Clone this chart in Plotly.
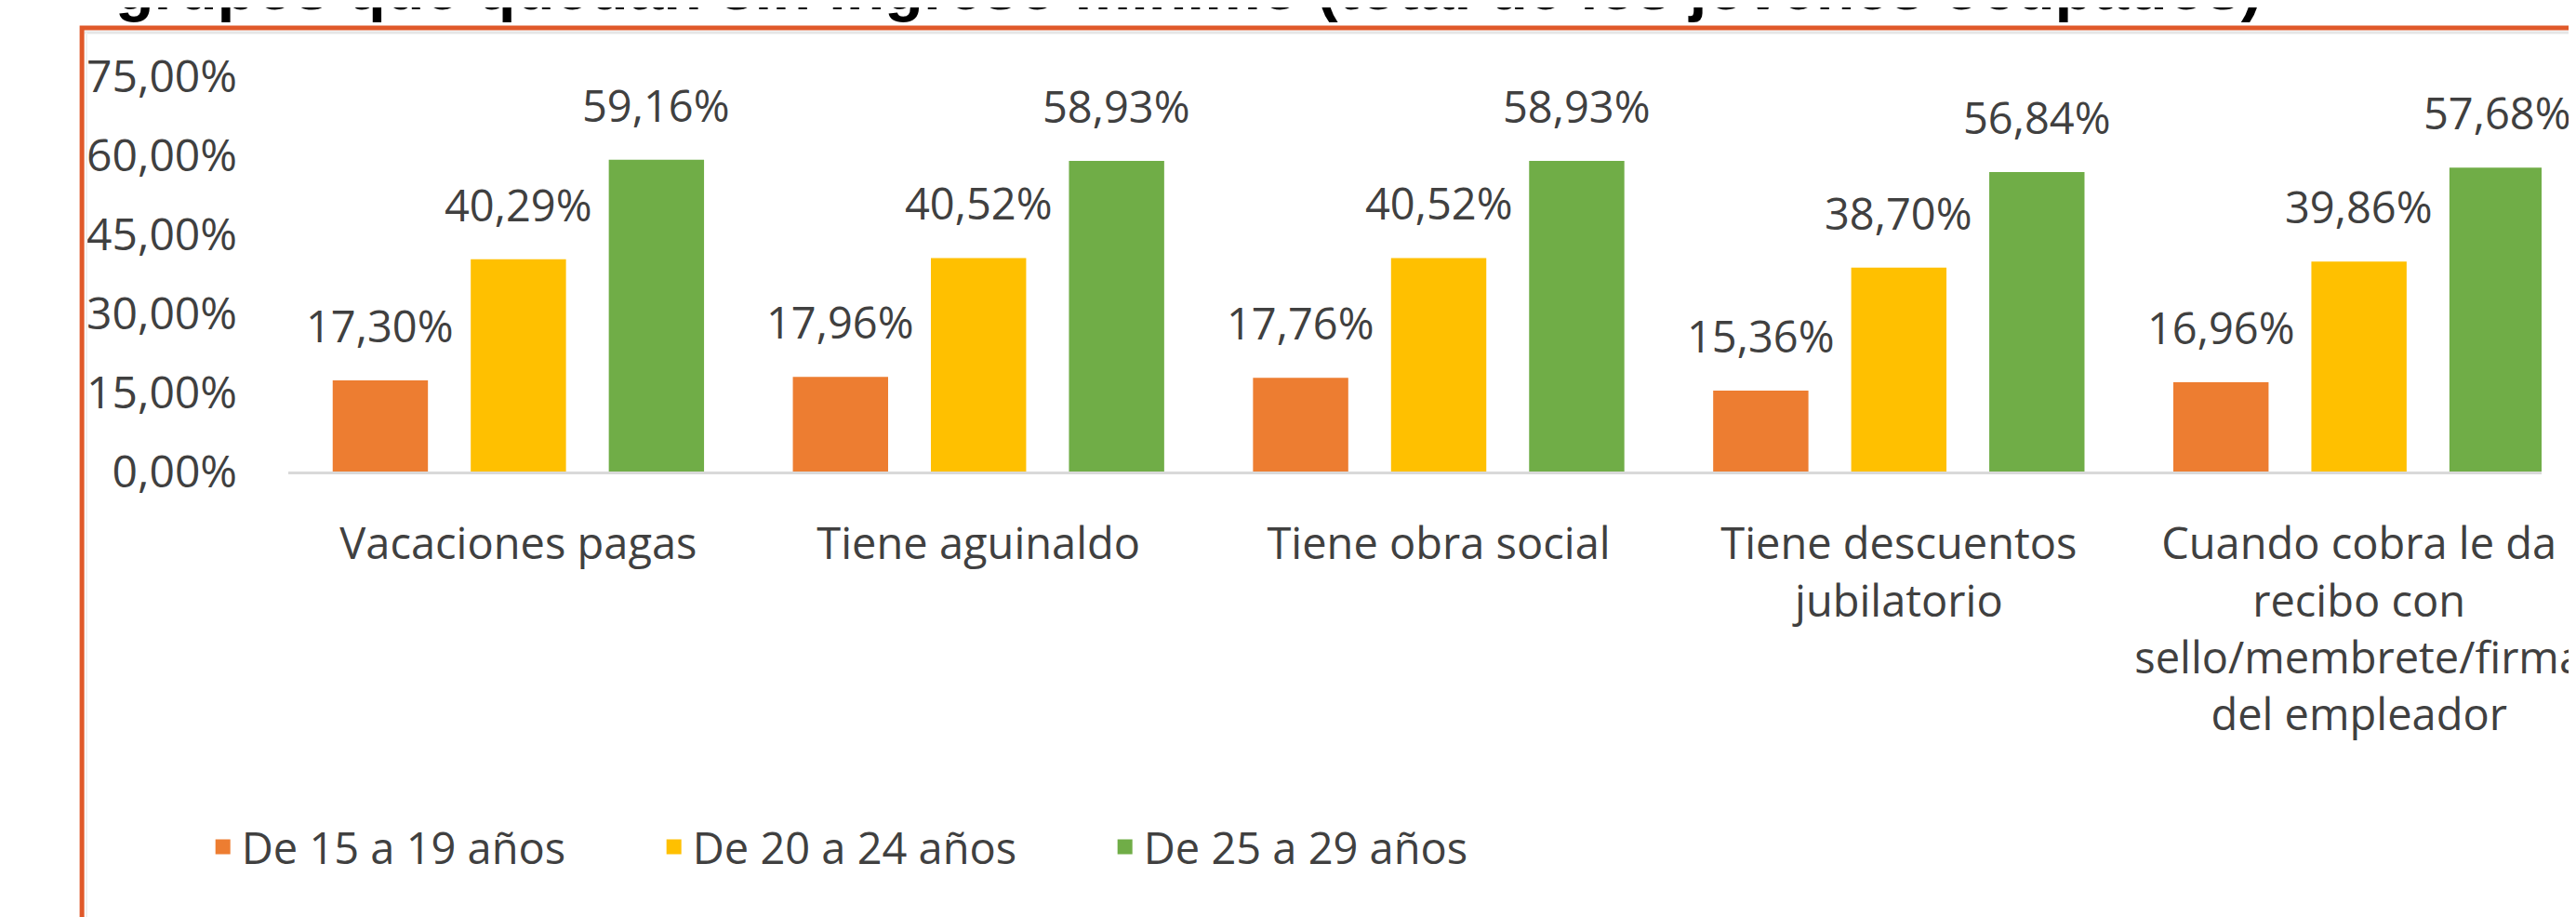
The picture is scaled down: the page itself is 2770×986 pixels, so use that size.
import plotly.graph_objects as go

# ---- data ----
categories = [
    "Vacaciones pagas",
    "Tiene aguinaldo",
    "Tiene obra social",
    "Tiene descuentos<br>jubilatorio",
    "Cuando cobra le da<br>recibo con<br>sello/membrete/firma<br>del empleador",
]
series_names = ["De 15 a 19 años", "De 20 a 24 años", "De 25 a 29 años"]
v_15_19 = [17.30, 17.96, 17.76, 15.36, 16.96]
v_20_24 = [40.29, 40.52, 40.52, 38.70, 39.86]
v_25_29 = [59.16, 58.93, 58.93, 56.84, 57.68]
y_ticks = [0, 15, 30, 45, 60, 75]
title_text = "grupos que quedan sin ingreso mínimo (total de los jóvenes ocupados)"

series_values = [v_15_19, v_20_24, v_25_29]
colors = ["#ED7D31", "#FFC000", "#70AD47"]

# ---- layout geometry (pixels) ----
W, H = 2770, 986
plot_left, plot_top, plot_bottom = 302, 74, 499
plot_w = W - plot_left
plot_h = plot_bottom - plot_top
cat_px = 504.0
x_max = -0.5 + plot_w / cat_px


def px_x(px):
    return (px - plot_left) / plot_w


def px_y(py):
    return (plot_bottom - py) / plot_h


FONT = "'Open Sans', Lato, sans-serif"
TXT = "#404040"
FS = 47

fig = go.Figure()
for name, vals, col in zip(series_names, series_values, colors):
    fig.add_trace(go.Bar(
        x=list(range(len(categories))), y=vals, name=name,
        marker=dict(color=col, line=dict(width=0)),
        hoverinfo="skip", showlegend=False,
    ))
# legend entries with square swatches
for name, col in zip(series_names, colors):
    fig.add_trace(go.Scatter(
        x=[None], y=[None], name=name, mode="markers",
        marker=dict(symbol="square", size=16, color=col),
        hoverinfo="skip", showlegend=True,
    ))

bargap = 0.1
n_series = len(series_values)
slot = (1 - bargap) / n_series
annotations = []
for j, vals in enumerate(series_values):
    for i, v in enumerate(vals):
        annotations.append(dict(
            x=i + (j - (n_series - 1) / 2) * slot, y=v, xref="x", yref="y",
            text=f"{v:.2f}".replace(".", ",") + "%",
            showarrow=False, yanchor="middle", yshift=59,
            font=dict(family=FONT, size=FS, color=TXT),
        ))

# partially visible title (cut by the top of the picture)
annotations.append(dict(
    x=px_x(110), y=px_y(18), xref="paper", yref="paper",
    xanchor="left", yanchor="bottom", text=title_text, showarrow=False,
    font=dict(family="Liberation Sans, Arial, sans-serif", size=68, color="#000000", weight="bold"),
))

shapes = [
    # chart-area border (orange), cut by picture edges
    dict(type="rect", xref="paper", yref="paper",
         x0=px_x(76), x1=px_x(W + 50), y0=px_y(H + 50), y1=px_y(22),
         line=dict(color="#E0592A", width=5), fillcolor="rgba(0,0,0,0)", layer="above"),
    # faint shadow lines inside border
    dict(type="line", xref="paper", yref="paper",
         x0=px_x(79), x1=px_x(W + 50), y0=px_y(27), y1=px_y(27),
         line=dict(color="#E6E6E6", width=3), layer="above"),
    dict(type="line", xref="paper", yref="paper",
         x0=px_x(81), x1=px_x(81), y0=px_y(27), y1=px_y(H + 50),
         line=dict(color="#F0F0F0", width=2), layer="above"),
]

fig.update_layout(
    width=W, height=H,
    margin=dict(l=plot_left, r=0, t=plot_top, b=H - plot_bottom, pad=0),
    paper_bgcolor="white", plot_bgcolor="white",
    barmode="group", bargap=bargap, bargroupgap=0.31,
    separators=",.",
    font=dict(family=FONT, size=FS, color=TXT),
    showlegend=True,
    legend=dict(
        orientation="h", x=px_x(210), xanchor="left", y=px_y(903), yanchor="middle",
        font=dict(family=FONT, size=FS, color=TXT),
        entrywidth=440, entrywidthmode="pixels", itemwidth=30,
        bgcolor="rgba(0,0,0,0)", traceorder="normal",
    ),
    xaxis=dict(
        range=[-0.5, x_max],
        tickmode="array", tickvals=list(range(len(categories))), ticktext=categories,
        showgrid=False, zeroline=False, showline=True, linecolor="#D9D9D9", linewidth=3,
        ticks="", ticklabelstandoff=35, ticklabeloverflow="allow",
        tickfont=dict(family=FONT, size=FS, color=TXT),
    ),
    yaxis=dict(
        range=[0, 75], tickmode="array", tickvals=y_ticks,
        ticktext=[f"{t:.2f}".replace(".", ",") + "%" for t in y_ticks],
        showgrid=False, zeroline=False, showline=False, ticks="",
        ticklabelstandoff=54,
        tickfont=dict(family=FONT, size=48, color=TXT),
    ),
    annotations=annotations,
    shapes=shapes,
)

fig.write_html("out.html")
